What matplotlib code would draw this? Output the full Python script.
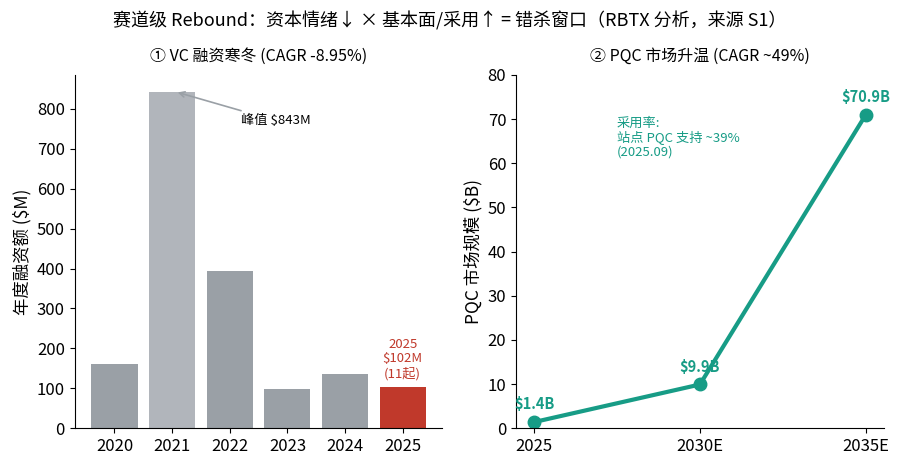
import matplotlib
matplotlib.use("Agg")
import matplotlib.pyplot as plt
from matplotlib.ticker import MultipleLocator

plt.rcParams['font.family'] = ['Noto Sans CJK SC', 'DejaVu Sans']

years = ['2020', '2021', '2022', '2023', '2024', '2025']
funding = [162, 843, 395, 97, 137, 102]
bar_colors = ['#9aa0a6', '#b1b5bb', '#9aa0a6', '#9aa0a6', '#9aa0a6', '#c0392b']

mkt_labels = ['2025', '2030E', '2035E']
mkt_values = [1.4, 9.9, 70.9]
mkt_text = ['$1.4B', '$9.9B', '$70.9B']

teal = '#179c86'

fig, (ax1, ax2) = plt.subplots(1, 2, figsize=(9, 4.68), dpi=100)
fig.subplots_adjust(left=0.083, right=0.982, top=0.84, bottom=0.085, wspace=0.2)

fig.suptitle('赛道级 Rebound：资本情绪↓ × 基本面/采用↑ = 错杀窗口（RBTX 分析，来源 S1）',
             fontsize=13, y=0.975)

x = range(len(years))
ax1.bar(x, funding, color=bar_colors, width=0.8)
ax1.set_xticks(list(x))
ax1.set_xticklabels(years)
ax1.set_ylim(0, 885)
ax1.yaxis.set_major_locator(MultipleLocator(100))
ax1.set_ylabel('年度融资额 ($M)', fontsize=12.5)
ax1.set_title('① VC 融资寒冬 (CAGR -8.95%)', fontsize=11.5, pad=10)
ax1.tick_params(labelsize=12)
for s in ['top', 'right']:
    ax1.spines[s].set_visible(False)
ax1.annotate('峰值 $843M', xy=(1.05, funding[1]), xytext=(2.2, 770),
             fontsize=9.5, va='center', ha='left',
             arrowprops=dict(arrowstyle='->', color='#9aa0a6', lw=1.2))
ax1.text(5, funding[5] + 18, '2025\n$102M\n(11起)', ha='center', va='bottom',
         color='#c0392b', fontsize=9.5, linespacing=1.15)

xm = range(len(mkt_labels))
ax2.plot(list(xm), mkt_values, color=teal, lw=3, marker='o', markersize=9)
for i, (v, t) in enumerate(zip(mkt_values, mkt_text)):
    ax2.annotate(t, xy=(i, v), xytext=(0, 7), textcoords='offset points',
                 ha='center', va='bottom', color=teal, fontsize=10.5, fontweight='bold')
ax2.set_xticks(list(xm))
ax2.set_xticklabels(mkt_labels)
ax2.set_xlim(-0.11, 2.11)
ax2.set_ylim(0, 80)
ax2.set_ylabel('PQC 市场规模 ($B)', fontsize=12.5)
ax2.set_title('② PQC 市场升温 (CAGR ~49%)', fontsize=11.5, pad=10)
ax2.tick_params(labelsize=12)
for s in ['top', 'right']:
    ax2.spines[s].set_visible(False)
ax2.text(0.5, 70.5, '采用率:\n站点 PQC 支持 ~39%\n(2025.09)', color=teal, fontsize=9.5,
         ha='left', va='top', linespacing=1.1)

fig.savefig('out.png', dpi=100)
